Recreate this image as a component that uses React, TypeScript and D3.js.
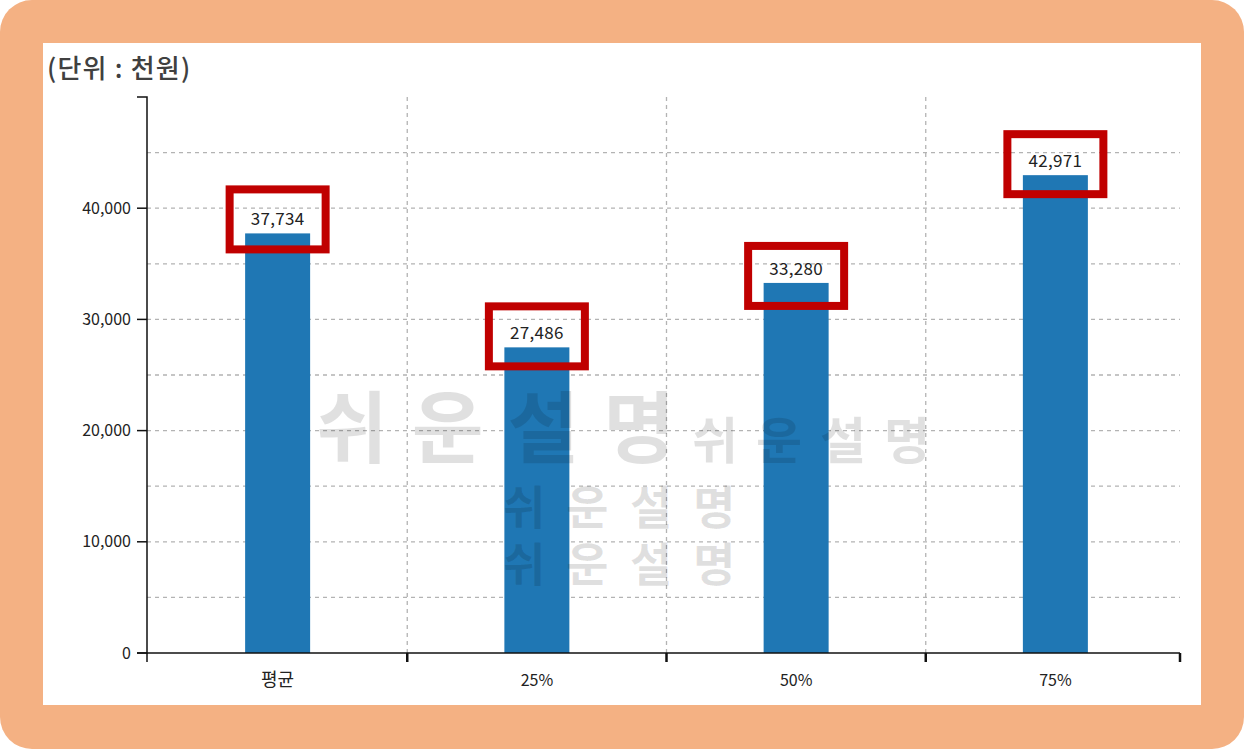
import React from "react";
import * as d3 from "d3";

const categories = ["평균", "25%", "50%", "75%"];
const values = [37734, 27486, 33280, 42971];
const yTicks = [0, 10000, 20000, 30000, 40000];
const gridValues = [5000, 10000, 15000, 20000, 25000, 30000, 35000, 40000, 45000];
const title = "(단위 : 천원)";
const watermark = "쉬운설명";

const W = 1244;
const H = 749;
const FONT = "'Noto Sans CJK KR', 'Noto Sans', sans-serif";
// hand-drawn highlight boxes sit slightly differently above each bar
const boxOffsets = [-44, -41, -37, -41];

export default function App() {
  const left = 147, right = 1180, top = 97, bottom = 653;
  const y = d3.scaleLinear().domain([0, 50000]).range([bottom, top]);
  const x = d3.scaleBand().domain(categories).range([148, 1185]).paddingInner(0).paddingOuter(0);
  const bw = 65;
  const fmt = d3.format(",");
  const boundaries = categories.slice(1).map((c) => x(c) as number);
  const allTicksX = [left, ...boundaries, right];

  return (
    <svg width={W} height={H} style={{ position: "absolute", left: 0, top: 0 }} fontFamily={FONT}>
      <rect x={0} y={0} width={W} height={H} fill="#ffffff" />
      <rect x={0} y={0} width={W} height={H} rx={32} ry={32} fill="#F4B183" />
      <rect x={43} y={43} width={1158} height={662} fill="#ffffff" />

      <text x={47} y={78} fontSize={26} fontWeight={500} fill="#404040" letterSpacing={1.2}>{title}</text>

      {/* horizontal grid */}
      {gridValues.map((v) => (
        <line key={"h" + v} x1={left} x2={right} y1={y(v)} y2={y(v)} stroke="#b3b3b3" strokeWidth={1.3} strokeDasharray="4,4" />
      ))}
      {/* vertical grid */}
      {boundaries.map((bx, i) => (
        <line key={"v" + i} x1={bx} x2={bx} y1={top} y2={bottom} stroke="#b3b3b3" strokeWidth={1.3} strokeDasharray="4,4" />
      ))}

      {/* bars */}
      {values.map((v, i) => {
        const cx = (x(categories[i]) as number) + x.bandwidth() / 2;
        return (
          <rect key={"b" + i} x={cx - bw / 2} y={y(v)} width={bw} height={bottom - y(v)} fill="#1F77B4" />
        );
      })}

      {/* watermark */}
      <g fill="#000" fillOpacity={0.12} fontWeight={700}>
        <text x={316} y={457} fontSize={78} letterSpacing={24}>{watermark}</text>
        <text x={692} y={459} fontSize={50} letterSpacing={18}>{watermark}</text>
        <text x={503} y={524} fontSize={46} letterSpacing={21}>{watermark}</text>
        <text x={503} y={581} fontSize={46} letterSpacing={21}>{watermark}</text>
      </g>

      {/* bar labels */}
      {values.map((v, i) => {
        const cx = (x(categories[i]) as number) + x.bandwidth() / 2;
        return (
          <text key={"l" + i} x={cx} y={y(v) - 8} textAnchor="middle" fontSize={17} fill="#222" letterSpacing={0.3}>{fmt(v)}</text>
        );
      })}

      {/* red boxes */}
      {values.map((v, i) => {
        const cx = (x(categories[i]) as number) + x.bandwidth() / 2;
        return (
          <rect key={"r" + i} x={cx - 48} y={y(v) + boxOffsets[i]} width={96} height={60} fill="none" stroke="#C00000" strokeWidth={8} />
        );
      })}

      {/* y axis */}
      <path d={`M${left - 10},${top}H${left}V${bottom}H${left - 10}`} fill="none" stroke="#111" strokeWidth={1.5} />
      {yTicks.map((t) => (
        <g key={"yt" + t}>
          <line x1={left - 10} x2={left} y1={y(t)} y2={y(t)} stroke="#111" strokeWidth={1.5} />
          <text x={left - 16} y={y(t)} dy="0.35em" textAnchor="end" fontSize={16} fill="#222">{fmt(t)}</text>
        </g>
      ))}

      {/* x axis */}
      <line x1={left} x2={right} y1={bottom} y2={bottom} stroke="#111" strokeWidth={1.5} />
      {allTicksX.map((tx, i) => (
        <line key={"xt" + i} x1={tx} x2={tx} y1={bottom} y2={bottom + 9} stroke="#111" strokeWidth={i === 0 ? 1.5 : 2.5} />
      ))}
      {categories.map((c) => (
        <text key={"xl" + c} x={(x(c) as number) + x.bandwidth() / 2} y={686} textAnchor="middle" fontSize={c === "평균" ? 18 : 16} fill="#222">{c}</text>
      ))}
    </svg>
  );
}
